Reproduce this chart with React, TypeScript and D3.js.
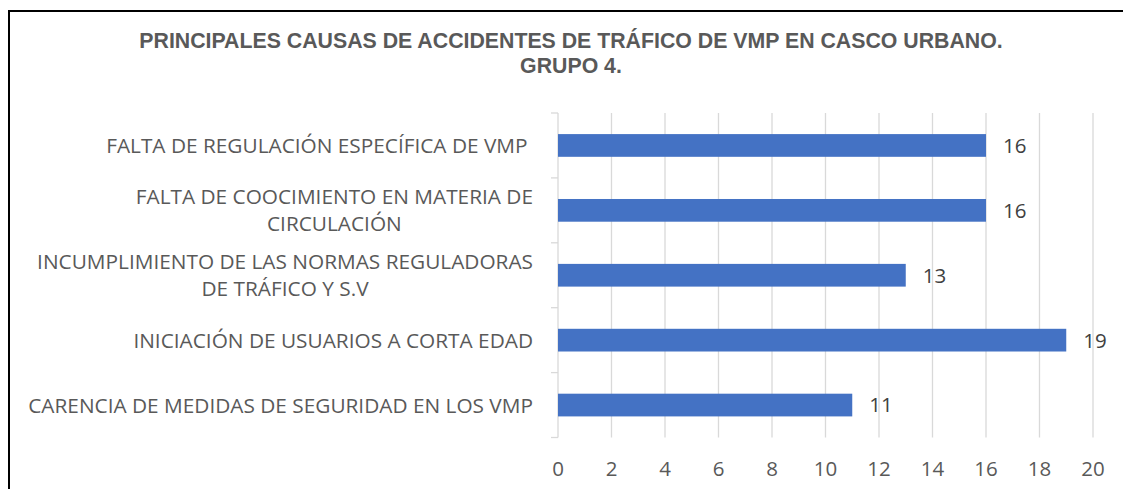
import React, { useEffect, useRef } from "react";
import * as d3 from "d3";

const categories: string[][] = [
  ["FALTA DE REGULACIÓN ESPECÍFICA DE VMP "],
  ["FALTA DE COOCIMIENTO EN MATERIA DE", "CIRCULACIÓN"],
  ["INCUMPLIMIENTO DE LAS NORMAS REGULADORAS", "DE TRÁFICO Y S.V"],
  ["INICIACIÓN DE USUARIOS A CORTA EDAD"],
  ["CARENCIA DE MEDIDAS DE SEGURIDAD EN LOS VMP"],
];
const values: number[] = [16, 16, 13, 19, 11];
const xTicks: number[] = [0, 2, 4, 6, 8, 10, 12, 14, 16, 18, 20];
const titleLines: string[] = [
  "PRINCIPALES CAUSAS DE ACCIDENTES DE TRÁFICO DE VMP EN CASCO URBANO.",
  "GRUPO 4.",
];

const W = 1123;
const H = 489;
const FONT = "'Open Sans', sans-serif";

export default function App() {
  const ref = useRef<SVGSVGElement>(null);

  useEffect(() => {
    const svg = d3.select(ref.current!);
    svg.selectAll("*").remove();

    const x0 = 558, x1 = 1093, yTop = 113, yBot = 437.5;
    const x = d3.scaleLinear().domain([0, 20]).range([x0, x1]);
    const idx = categories.map((_, i) => String(i));
    const y = d3.scaleBand().domain(idx).range([yTop, yBot]).paddingInner(0.65).paddingOuter(0.325);
    const step = y.step();

    svg.append("rect").attr("width", W).attr("height", H).attr("fill", "#fff");
    svg.append("rect").attr("x", 9).attr("y", 11).attr("width", W + 20).attr("height", H + 20)
      .attr("fill", "none").attr("stroke", "#000").attr("stroke-width", 2);

    // title
    svg.append("g").selectAll("text").data(titleLines).join("text")
      .attr("x", 571).attr("y", (_, i) => 48 + i * 25)
      .attr("text-anchor", "middle")
      .attr("font-family", "'Liberation Sans', Arial, sans-serif")
      .attr("font-weight", "bold").attr("font-size", 21.3)
      .attr("fill", "#595959").text(d => d);

    // gridlines
    svg.append("g").selectAll("line").data(xTicks).join("line")
      .attr("x1", d => x(d)).attr("x2", d => x(d))
      .attr("y1", yTop).attr("y2", yBot)
      .attr("stroke", "#d9d9d9").attr("stroke-width", 1.3);

    // y-axis ticks at band boundaries
    const bounds = d3.range(categories.length + 1).map(i => yTop + i * step);
    svg.append("g").selectAll("line").data(bounds).join("line")
      .attr("x1", x0 - 7).attr("x2", x0).attr("y1", d => d).attr("y2", d => d)
      .attr("stroke", "#d9d9d9").attr("stroke-width", 1.3);

    // bars
    svg.append("g").selectAll("rect").data(values).join("rect")
      .attr("x", x(0)).attr("y", (_, i) => y(String(i))!)
      .attr("width", d => x(d) - x(0)).attr("height", y.bandwidth())
      .attr("fill", "#4472C4");

    // value labels
    svg.append("g").selectAll("text").data(values).join("text")
      .attr("x", d => x(d) + 17).attr("y", (_, i) => y(String(i))! + y.bandwidth() / 2)
      .attr("dy", "0.36em")
      .attr("font-family", FONT).attr("font-size", 20.5)
      .attr("fill", "#404040").text(d => String(d));

    // x tick labels
    svg.append("g").selectAll("text").data(xTicks).join("text")
      .attr("x", d => x(d)).attr("y", 469).attr("dy", "0.36em")
      .attr("text-anchor", "middle")
      .attr("font-family", FONT).attr("font-size", 20.5)
      .attr("fill", "#595959").text(d => String(d));

    // category labels
    const labelRight = 533;
    const lineGap = 27;
    categories.forEach((lines, i) => {
      const cy = y(String(i))! + y.bandwidth() / 2;
      const g = svg.append("g");
      const texts = g.selectAll("text").data(lines).join("text")
        .attr("y", (_, j) => cy + (j - (lines.length - 1) / 2) * lineGap)
        .attr("dy", "0.36em")
        .style("white-space", "pre")
        .attr("font-family", FONT).attr("font-size", 20.8)
        .attr("fill", "#595959").text(d => d);
      let maxW = 0;
      texts.each(function () {
        maxW = Math.max(maxW, (this as SVGTextElement).getComputedTextLength());
      });
      texts.attr("text-anchor", "middle").attr("x", labelRight - maxW / 2);
    });
  }, []);

  return (
    <svg ref={ref} width={W} height={H}
      style={{ position: "absolute", left: 0, top: 0, display: "block" }} />
  );
}
